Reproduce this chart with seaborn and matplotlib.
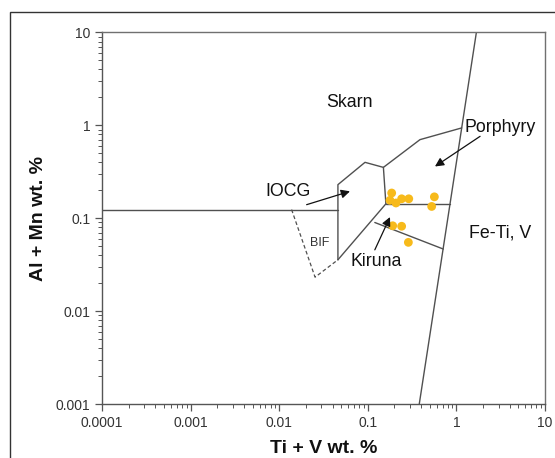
import matplotlib
matplotlib.use("Agg")
import matplotlib.pyplot as plt
from matplotlib.ticker import LogLocator, FixedFormatter, FixedLocator, NullFormatter
import seaborn as sns
import numpy as np
import pandas as pd

# 시료 데이터 (Ti+V, Al+Mn wt.%)
ti_v = [0.186, 0.178, 0.208, 0.241, 0.290, 0.564, 0.526, 0.191, 0.241, 0.287]
al_mn = [0.187, 0.156, 0.146, 0.162, 0.162, 0.170, 0.134, 0.083, 0.082, 0.055]

# 구분 경계선 (x, y)
bounds = {
    "skarn_base": ([0.0001, 0.046], [0.124, 0.124]),
    "iocg": ([0.046, 0.046, 0.093, 0.150, 0.160], [0.0357, 0.23, 0.40, 0.353, 0.143]),
    "kiruna_top": ([0.160, 0.847], [0.143, 0.143]),
    "diag": ([0.160, 0.046], [0.143, 0.0357]),
    "kiruna_low": ([0.120, 0.711], [0.090, 0.0466]),
    "porphyry": ([0.150, 0.388, 1.148], [0.353, 0.702, 0.939]),
    "fetiv": ([0.381, 1.68], [0.001, 10]),
}
bif_x = [0.0138, 0.0254, 0.046]
bif_y = [0.124, 0.0232, 0.0357]

labels = ["Skarn", "Porphyry", "IOCG", "Kiruna", "Fe-Ti, V"]
label_x = [0.0616, 3.1, 0.0126, 0.124, 3.1]
label_y = [1.76, 0.946, 0.193, 0.034, 0.0698]

# 화살표 (tail -> head)
arrows = [((0.0204, 0.140), (0.0629, 0.195)),
          ((0.120, 0.0457), (0.178, 0.103)),
          ((1.85, 0.762), (0.573, 0.361))]

xticks = [0.0001, 0.001, 0.01, 0.1, 1, 10]
xtick_labels = ["0.0001", "0.001", "0.01", "0.1", "1", "10"]
yticks = [0.001, 0.01, 0.1, 1, 10]
ytick_labels = ["0.001", "0.01", "0.1", "1", "10"]

sns.set_style("white")
plt.rcParams['font.family'] = ['Liberation Sans', 'DejaVu Sans']

fig = plt.figure(figsize=(5.55, 4.58), dpi=100)
ax = fig.add_axes([102/555, 1-404/458, (545-102)/555, (404-32.5)/458])

# 바깥 테두리
fig.patches.append(plt.Rectangle((10/555, -0.1), 1.2, 1 - 11.7/458 + 0.1, transform=fig.transFigure,
                                 fill=False, edgecolor="#333333", lw=1.0))

line_c = "#505050"
for k, (bx, by) in bounds.items():
    ax.plot(bx, by, color=line_c, lw=1.0, zorder=2)
ax.plot(bif_x, bif_y, color=line_c, lw=0.9, ls=(0, (3, 2)), zorder=2)

df = pd.DataFrame({"ti_v": ti_v, "al_mn": al_mn})
sns.scatterplot(data=df, x="ti_v", y="al_mn", color="#F7BA1B", s=40, edgecolor="none", zorder=3, ax=ax)

for t, lx, ly in zip(labels, label_x, label_y):
    ax.text(lx, ly, t, ha="center", va="center", fontsize=12.8, color="#111111", zorder=4)
ax.text(0.0289, 0.0545, "BIF", ha="center", va="center", fontsize=9, color="#333333")

for (tx, ty), (hx, hy) in arrows:
    ax.annotate("", xy=(hx, hy), xytext=(tx, ty),
                arrowprops=dict(arrowstyle="-|>", color="#111111", lw=0.9, mutation_scale=13, shrinkA=0, shrinkB=0))

ax.set_xscale("log")
ax.set_yscale("log")
ax.set_xlim(0.0001, 10)
ax.set_ylim(0.001, 10)

ax.xaxis.set_major_locator(FixedLocator(xticks))
ax.xaxis.set_major_formatter(FixedFormatter(xtick_labels))
ax.yaxis.set_major_locator(FixedLocator(yticks))
ax.yaxis.set_major_formatter(FixedFormatter(ytick_labels))
ax.xaxis.set_minor_locator(LogLocator(base=10, subs=np.arange(2, 10)))
ax.yaxis.set_minor_locator(LogLocator(base=10, subs=np.arange(2, 10)))
ax.xaxis.set_minor_formatter(NullFormatter())
ax.yaxis.set_minor_formatter(NullFormatter())

ax.tick_params(which="major", direction="out", length=5, width=0.9, color="#555555",
               labelsize=10, labelcolor="#333333", bottom=True, left=True)
ax.tick_params(which="minor", direction="out", length=3, width=0.7, color="#555555", bottom=True, left=True)

for s in ax.spines.values():
    s.set_color("#707070")
    s.set_linewidth(1.0)
ax.spines["bottom"].set_color("#555555")
ax.spines["left"].set_color("#555555")

ax.set_xlabel("Ti + V wt. %", fontsize=14, fontweight="bold", color="#111111", labelpad=7)
ax.set_ylabel("Al + Mn wt. %", fontsize=14, fontweight="bold", color="#111111", labelpad=6)

fig.savefig("out.png", dpi=100)
